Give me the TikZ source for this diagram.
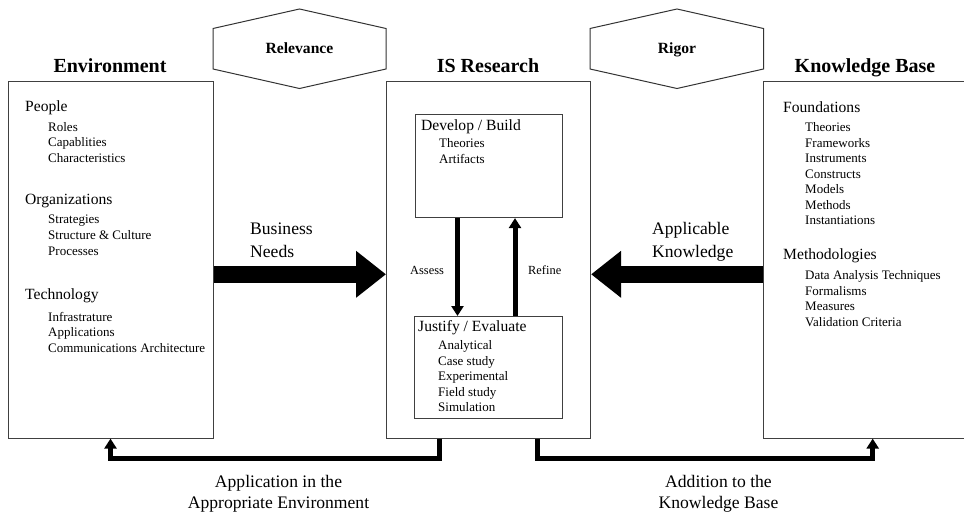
\documentclass[tikz,border=0pt]{standalone}
\usepackage{fontspec}
\setmainfont{Liberation Serif}
\usetikzlibrary{arrows.meta}
\tikzset{
  box/.style={draw=black!75, line width=1.1pt, inner sep=0pt, anchor=north west},
  hexa/.style={draw=black!80, line width=1pt},
  ttl/.style={font=\fontsize{20}{24}\selectfont\bfseries, anchor=base, inner sep=0pt},
  hexlbl/.style={font=\fontsize{15.6}{18}\selectfont\bfseries, anchor=base, inner sep=0pt},
  mainlbl/.style={font=\fontsize{15.6}{19}\selectfont, anchor=base west, inner sep=0pt},
  sublbl/.style={font=\fontsize{13}{15.5}\selectfont, anchor=base west, inner sep=0pt},
  smalllbl/.style={font=\fontsize{12.4}{15}\selectfont, anchor=base west, inner sep=0pt},
  biglbl/.style={font=\fontsize{17.6}{21}\selectfont, inner sep=0pt},
  bigarrow/.style={line width=16.5pt, -{Triangle[width=45pt,length=30pt]}},
  thinarrow/.style={line width=5pt, -{Triangle[width=12pt,length=10pt]}},
}
\begin{document}
\begin{tikzpicture}[x=1pt,y=-1pt]
\useasboundingbox (0,0) rectangle (964,513);

% main boxes
\node[box, minimum width=204.5pt, minimum height=356.5pt] (env) at (8,81) {};
\node[box, minimum width=204pt, minimum height=356.5pt] (is) at (386,81) {};
\node[box, minimum width=203pt, minimum height=356.5pt] (kb) at (763,81) {};
\node[box, minimum width=147pt, minimum height=103pt] (dev) at (415,114) {};
\node[box, minimum width=148pt, minimum height=102pt] (jus) at (414,316) {};

% titles
\node[ttl] (envt) at (110,73) {Environment};
\node[ttl] (ist) at (488,73) {IS Research};
\node[ttl] (kbt) at (865,73) {Knowledge Base};

% hexagons
\draw[hexa] (213,28.5) -- (299.5,9) -- (386,28.5) -- (386,69) -- (299.5,88.5) -- (213,69) -- cycle;
\node[hexlbl] (rel) at (299.5,53.5) {Relevance};
\draw[hexa] (590,28.5) -- (677,9) -- (763.5,28.5) -- (763.5,69) -- (677,88.5) -- (590,69) -- cycle;
\node[hexlbl] (rig) at (677,53.5) {Rigor};

% environment contents
\node[mainlbl] (peo) at (25,112) {People};
\foreach \t/\y [count=\i] in {Roles/131.5, Capablities/147, Characteristics/162.5}
  \node[sublbl] (peo\i) at (48,\y) {\t};
\node[mainlbl] (org) at (25,204.5) {Organizations};
\foreach \t/\y [count=\i] in {Strategies/224, Structure \& Culture/239.5, Processes/255}
  \node[sublbl] (org\i) at (48,\y) {\t};
\node[mainlbl] (tec) at (25,299) {Technology};
\foreach \t/\y [count=\i] in {Infrastrature/321, Applications/336.5, Communications Architecture/352}
  \node[sublbl] (tec\i) at (48,\y) {\t};

% knowledge base contents
\node[mainlbl] (fou) at (783,113) {Foundations};
\foreach \t/\y [count=\i] in {Theories/132, Frameworks/147.5, Instruments/163, Constructs/178.5, Models/194, Methods/209.5, Instantiations/225}
  \node[sublbl] (fou\i) at (805,\y) {\t};
\node[mainlbl] (met) at (783,259.5) {Methodologies};
\foreach \t/\y [count=\i] in {Data Analysis Techniques/279.5, Formalisms/295, Measures/310.5, Validation Criteria/326}
  \node[sublbl] (met\i) at (805,\y) {\t};

% IS research contents
\node[mainlbl] (devt) at (421,130.5) {Develop / Build};
\foreach \t/\y [count=\i] in {Theories/148, Artifacts/163.5}
  \node[sublbl] (dev\i) at (439,\y) {\t};
\node[mainlbl] (just) at (418,331.5) {Justify / Evaluate};
\foreach \t/\y [count=\i] in {Analytical/349.5, Case study/365, Experimental/380.5, Field study/396, Simulation/411.5}
  \node[sublbl] (jus\i) at (438,\y) {\t};

% inner arrows
\coordinate (ax) at (457.5,0);
\coordinate (rx) at (515,0);
\draw[thinarrow] (dev.south -| ax) -- (jus.north -| ax);
\draw[thinarrow] (jus.north -| rx) -- (dev.south -| rx);
\node[smalllbl] (ass) at (410,274.5) {Assess};
\node[smalllbl] (ref) at (528,274.5) {Refine};

% big arrows
\coordinate (bn) at (0,274.3);
\draw[bigarrow] (env.east |- bn) -- (is.west |- bn);
\draw[bigarrow] (kb.west |- bn) -- (is.east |- bn);
\node[biglbl, anchor=base west] (bus1) at (250,235) {Business};
\node[biglbl, anchor=base west] (bus2) at (250,258) {Needs};
\node[biglbl, anchor=base west] (app1) at (652,235) {Applicable};
\node[biglbl, anchor=base west] (app2) at (652,258) {Knowledge};

% bottom connectors
\coordinate (c1) at (439.5,458);
\coordinate (c2) at (110.5,458);
\coordinate (c3) at (537.5,458);
\coordinate (c4) at (872.7,458);
\draw[thinarrow] (is.south -| c1) -- (c1) -- (c2) -- (env.south -| c2);
\draw[thinarrow] (is.south -| c3) -- (c3) -- (c4) -- (kb.south -| c4);
\node[biglbl, anchor=base] (ap1) at (278.5,487) {Application in the};
\node[biglbl, anchor=base] (ap2) at (278.5,508) {Appropriate Environment};
\node[biglbl, anchor=base] (ad1) at (718.5,487) {Addition to the};
\node[biglbl, anchor=base] (ad2) at (718.5,508) {Knowledge Base};
\end{tikzpicture}
\end{document}
